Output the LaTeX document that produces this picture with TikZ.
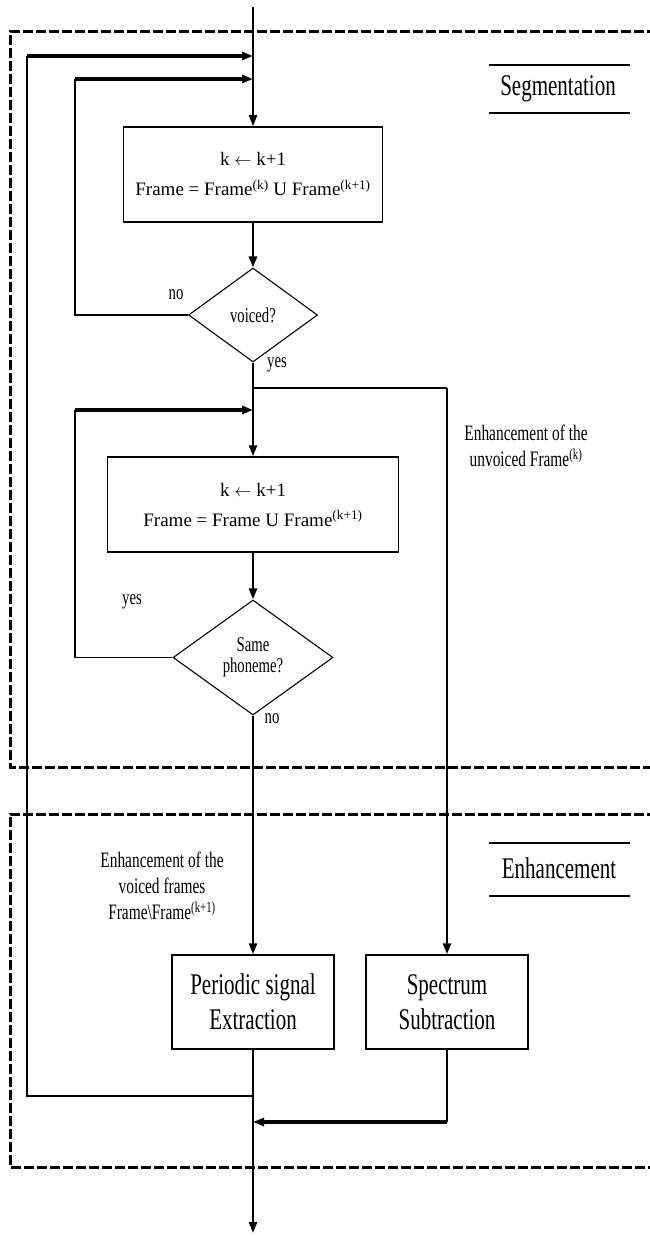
\documentclass[tikz,border=0pt]{standalone}
\usepackage{fontspec}
\setmainfont{Liberation Serif}
\newfontfamily\condfont[FakeStretch=0.7]{Liberation Serif}
\usetikzlibrary{shapes.geometric, arrows.meta, calc}

\begin{document}
\begin{tikzpicture}[x=1pt, y=-1pt, >={Triangle[length=11pt, width=8pt]},
    procbox/.style={draw, line width=1.5pt, rectangle, inner sep=0pt, align=center, font=\fontsize{19}{30}\selectfont},
    decision/.style={draw, line width=1.1pt, diamond, aspect=1.4, inner sep=0pt, align=center, font=\condfont\fontsize{21}{21}\selectfont},
    enhbox/.style={draw, line width=1.5pt, rectangle, inner sep=0pt, align=center, minimum width=162pt, minimum height=94pt, font=\condfont\fontsize{30}{35}\selectfont},
    flow/.style={line width=2.5pt},
    loopin/.style={line width=3.5pt},
    thinline/.style={line width=1.3pt},
    region/.style={line width=3pt, dash pattern=on 10pt off 3pt},
    note/.style={align=center, font=\condfont\fontsize{22}{26}\selectfont},
    answer/.style={font=\condfont\fontsize{21}{24}\selectfont},
    tag/.style={font=\condfont\fontsize{30}{34}\selectfont}]
    \useasboundingbox (0,0) rectangle (649,1236);

    % the two stages
    \draw[region] (670,32) -- (10,32) -- (10,767) -- (670,767);
    \draw[region] (670,814) -- (10,814) -- (10,1167) -- (670,1167);

    \node[tag] (segtag) at (558,89) {Segmentation};
    \draw[thinline] (489,65) -- (630,65);
    \draw[thinline] (489,113) -- (630,113);
    \node[tag] (enhtag) at (559,868) {Enhancement};
    \draw[thinline] (489,843) -- (630,843);
    \draw[thinline] (489,896) -- (630,896);

    % blocks
    \node[procbox, minimum width=259pt, minimum height=95pt] (step1) at (253,174.5) {k $\leftarrow$ k+1\\Frame = Frame\textsuperscript{(k)} U Frame\textsuperscript{(k+1)}};
    \node[decision, minimum width=129pt, minimum height=94pt] (voiced) at (253,315) {voiced?};
    \node[procbox, minimum width=291pt, minimum height=95pt] (step2) at (253,504.5) {k $\leftarrow$ k+1\\Frame = Frame U Frame\textsuperscript{(k+1)}};
    \node[decision, minimum width=160pt, minimum height=115pt] (same) at (253,657.5) {Same\\phoneme?};
    \node[enhbox] (periodic) at (253,1002) {Periodic signal\\Extraction};
    \node[enhbox] (spectrum) at (447,1002) {Spectrum\\Subtraction};

    \coordinate (in) at (253,7);
    \coordinate (outtop) at (27,56);
    \coordinate (join1) at (253,56);
    \coordinate (looptop1) at (75,79);
    \coordinate (join2) at (253,79);
    \coordinate (split) at (253,388);
    \coordinate (splitR) at (447,388);
    \coordinate (looptop2) at (75,410);
    \coordinate (join3) at (253,410);
    \coordinate (outbot) at (27,1096);
    \coordinate (merge) at (253,1096);
    \coordinate (specturn) at (447,1122);
    \coordinate (merge2) at (253,1122);
    \coordinate (out) at (253,1233);

    % main path
    \draw[flow, ->] (in) -- (step1);
    \draw[flow, ->] (step1) -- (voiced);
    \draw[flow, ->] (voiced) -- (step2);
    \draw[flow, ->] (step2) -- (same);
    \draw[flow, ->] (same) -- (periodic);
    \draw[flow, ->] (periodic) -- (out);

    % loops back
    \draw[thinline] (voiced.west) -- (looptop1 |- voiced.west) -- (looptop1);
    \draw[loopin, ->] (looptop1) -- (join2);
    \draw[thinline] (same.west) -- (looptop2 |- same.west) -- (looptop2);
    \draw[loopin, ->] (looptop2) -- (join3);
    \draw[thinline] (merge) -- (outbot) -- (outtop);
    \draw[loopin, ->] (outtop) -- (join1);

    % unvoiced branch
    \draw[thinline] (split) -- (splitR);
    \draw[flow, ->] (splitR) -- (spectrum);
    \draw[thinline] (spectrum) -- (specturn);
    \draw[loopin, ->] (specturn) -- (merge2);

    \node[answer] (no1) at (176,295) {no};
    \node[answer] (yes1) at (277,365) {yes};
    \node[answer] (yes2) at (132,602) {yes};
    \node[answer] (no2) at (272,719) {no};
    \node[note] (unvnote) at (526,446) {Enhancement of the\\unvoiced Frame\textsuperscript{(k)}};
    \node[note] (vcdnote) at (162,886) {Enhancement of the\\voiced frames\\Frame\textbackslash Frame\textsuperscript{(k+1)}};
\end{tikzpicture}
\end{document}
